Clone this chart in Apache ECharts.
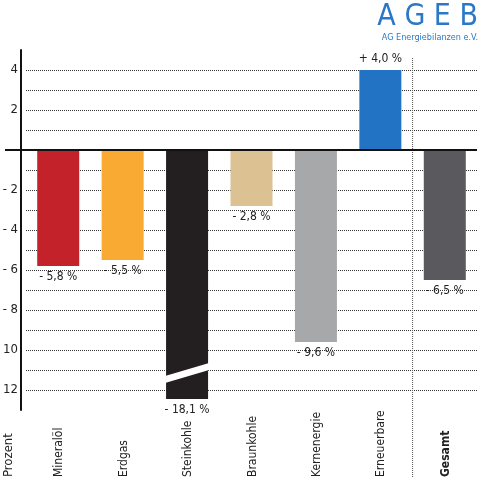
<!DOCTYPE html>
<html><head><meta charset="utf-8">
<script src="https://cdn.jsdelivr.net/npm/echarts@6/dist/echarts.min.js"></script>
<style>body{margin:0;background:#fff}#c{width:490px;height:495px}</style>
</head><body><div id="c"></div>
<script>
var categories = ['Mineralöl', 'Erdgas', 'Steinkohle', 'Braunkohle', 'Kernenergie', 'Erneuerbare', 'Gesamt'];
var values = [-5.8, -5.5, -18.1, -2.8, -9.6, 4.0, -6.5];
// Steinkohle is cut off (broken bar), so it is drawn shorter
var shown = [-5.8, -5.5, -12.45, -2.8, -9.6, 4.0, -6.5];
var colors = ['#c4222b', '#f8aa33', '#231f20', '#dcc193', '#a7a8aa', '#2273c3', '#5a5a5e'];
var tickLabels = [4, 2, -2, -4, -6, -8, -10, -12];

var FONT = '"DejaVu Sans Condensed", "Liberation Sans", sans-serif';
function fmt(v) {
  var s = Math.abs(v).toFixed(1).replace('.', ',') + ' %';
  return (v < 0 ? '- ' : '+ ') + s;
}

var chart = echarts.init(document.getElementById('c'));
chart.setOption({
  animation: false,
  grid: { left: 26, right: 13, top: 50, bottom: 85, outerBoundsMode: 'none', containLabel: false },
  xAxis: {
    type: 'category', data: categories,
    axisLine: { show: false }, axisTick: { show: false }, axisLabel: { show: false }
  },
  yAxis: {
    type: 'value', min: -13, max: 5, interval: 1, offset: 5,
    axisLine: { show: true, onZero: false, lineStyle: { color: '#111', width: 2 } },
    axisTick: { show: false },
    axisLabel: {
      fontFamily: FONT, fontSize: 13, color: '#222', margin: 3,
      customValues: tickLabels,
      formatter: function (v) { return v < 0 ? '- ' + Math.abs(v) : String(v); }
    },
    splitLine: { show: true, showMinLine: false, showMaxLine: false,
      lineStyle: { color: '#333', type: [1, 1], width: 1 } }
  },
  series: [{
    type: 'bar', barWidth: 42,
    data: shown.map(function (v, i) {
      return { value: v, itemStyle: { color: colors[i] } };
    }),
    label: {
      show: true, fontFamily: FONT, fontSize: 12, color: '#222',
      position: 'outside', distance: 5,
      formatter: function (p) { return fmt(values[p.dataIndex]); }
    },
    markLine: {
      silent: true, symbol: 'none', label: { show: false },
      lineStyle: { color: '#111', type: 'solid', width: 2 },
      data: [[{ coord: [-0.55, 0], x: 5 }, { coord: [6.5, 0], x: 477 }]]
    },
    z: 2
  }, {
    type: 'custom',
    data: [[2, -11.3, -11.65, -10.65, -11.0]],
    renderItem: function (params, api) {
      var w = 44;
      var c = api.coord([api.value(0), 0]);
      var x0 = c[0] - w / 2, x1 = c[0] + w / 2;
      var pts = [
        [x0, api.coord([2, api.value(1)])[1]],
        [x1, api.coord([2, api.value(3)])[1]],
        [x1, api.coord([2, api.value(4)])[1]],
        [x0, api.coord([2, api.value(2)])[1]]
      ];
      return { type: 'polygon', shape: { points: pts }, style: { fill: '#fff' } };
    },
    z: 5
  }]
});

// rotated category labels, separator, logo
var g = [];
var baseY = 477;
categories.forEach(function (c, i) {
  var x = chart.convertToPixel({ xAxisIndex: 0 }, c);
  g.push({
    type: 'text', x: x + 7, y: baseY, rotation: Math.PI / 2,
    style: { text: c, fontFamily: FONT, fontSize: 12, fill: '#222',
      fontWeight: i === 6 ? 'bold' : 'normal', align: 'left', verticalAlign: 'bottom' }
  });
});
g.push({
  type: 'text', x: 15, y: baseY, rotation: Math.PI / 2,
  style: { text: 'Prozent', fontFamily: FONT, fontSize: 13, fill: '#222', align: 'left', verticalAlign: 'bottom' }
});
var sx = (chart.convertToPixel({ xAxisIndex: 0 }, categories[5]) + chart.convertToPixel({ xAxisIndex: 0 }, categories[6])) / 2;
g.push({
  type: 'line', shape: { x1: sx, y1: 58, x2: sx, y2: 478 },
  style: { stroke: '#555', lineWidth: 1, lineDash: [1, 1] }
});
g.push({
  type: 'text', right: 12, top: 2,
  style: { text: 'A G E B', fontFamily: FONT, fontSize: 30, fill: '#2b78c6' }
});
g.push({
  type: 'text', right: 12, top: 33,
  style: { text: 'AG Energiebilanzen e.V.', fontFamily: FONT, fontSize: 9, fill: '#2b78c6' }
});
chart.setOption({ graphic: g });
</script></body></html>
